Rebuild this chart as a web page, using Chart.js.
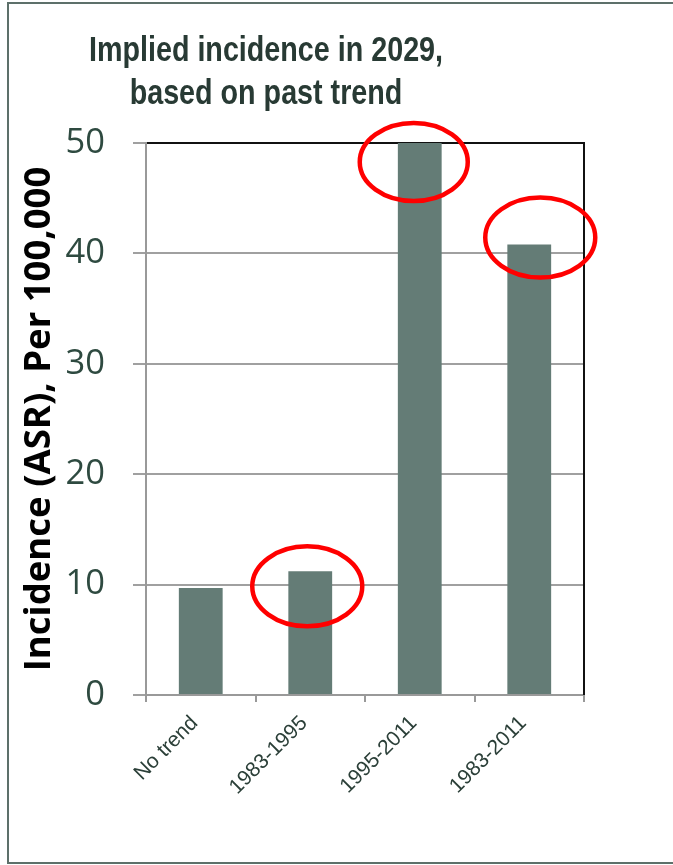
<!DOCTYPE html>
<html><head><meta charset="utf-8">
<script src="https://cdn.jsdelivr.net/npm/chart.js@4.4.1/dist/chart.umd.min.js"></script>
<style>html,body{margin:0;padding:0;background:#fff;}#wrap{width:673px;height:865px;position:relative;}canvas{display:block;}</style>
</head><body><div id="wrap"><canvas id="c" width="673" height="865"></canvas></div>
<script>
// ---- data ----
const categories = ['No trend', '1983-1995', '1995-2011', '1983-2011'];
const incidence2029 = [9.7, 11.2, 50.0, 40.8];
const yTickValues = [0, 10, 20, 30, 40, 50];
const titleLines = ['Implied incidence in 2029,', 'based on past trend'];
const yAxisTitle = 'Incidence (ASR), Per 100,000';
const circledCategories = ['1983-1995', '1995-2011', '1983-2011'];

// ---- styles ----
const ellipseStyle = {
  '1983-1995': {dx: -3, dy: 15, rx: 55, ry: 40},
  '1995-2011': {dx: -6, dy: 19, rx: 54, ry: 39},
  '1983-2011': {dx: 11, dy: -7, rx: 55, ry: 40}
};

const decorPlugin = {
  id: 'decor',
  beforeDraw(chart) {
    const ctx = chart.ctx;
    ctx.save();
    ctx.fillStyle = '#fff';
    ctx.fillRect(0, 0, chart.width, chart.height);
    ctx.strokeStyle = '#5d706a';
    ctx.lineWidth = 2;
    ctx.strokeRect(8, 3, chart.width + 20, chart.height - 5);
    ctx.fillStyle = '#283a34';
    ctx.font = 'bold 35px "Liberation Sans", Arial, sans-serif';
    ctx.textAlign = 'center';
    ctx.textBaseline = 'alphabetic';
    const sx = 0.82;
    ctx.scale(sx, 1);
    ctx.fillText(titleLines[0], 266 / sx, 61);
    ctx.fillText(titleLines[1], 266 / sx, 104);
    ctx.restore();
  },
  afterDraw(chart) {
    const ctx = chart.ctx;
    const a = chart.chartArea;
    ctx.save();
    ctx.strokeStyle = '#111';
    ctx.lineWidth = 2;
    ctx.beginPath();
    ctx.moveTo(a.right, a.top - 1);
    ctx.lineTo(a.right, a.bottom);
    ctx.stroke();
    // highlight ellipses
    const meta = chart.getDatasetMeta(0);
    ctx.strokeStyle = '#ff0000';
    ctx.lineWidth = 4.5;
    circledCategories.forEach(cat => {
      const i = categories.indexOf(cat);
      const bar = meta.data[i];
      const s = ellipseStyle[cat];
      ctx.beginPath();
      ctx.ellipse(bar.x + s.dx, bar.y + s.dy, s.rx, s.ry, 0, 0, Math.PI * 2);
      ctx.stroke();
    });
    ctx.restore();
  }
};

new Chart(document.getElementById('c'), {
  type: 'bar',
  data: {
    labels: categories,
    datasets: [{
      data: incidence2029,
      backgroundColor: '#647c76',
      borderWidth: 0,
      barPercentage: 0.4,
      categoryPercentage: 1.0
    }]
  },
  options: {
    responsive: false,
    devicePixelRatio: 1,
    animation: false,
    layout: {padding: {top: 143, left: 8, right: 89, bottom: 69}},
    plugins: {legend: {display: false}, tooltip: {enabled: false}, title: {display: false}},
    scales: {
      x: {
        afterFit(scale) { scale.paddingLeft = 0; scale.paddingRight = 0; scale.height = 101; },
        grid: {drawOnChartArea: false, drawTicks: true, tickLength: 7, color: '#999', lineWidth: 2, offset: true},
        border: {color: '#999', width: 2},
        ticks: {
          minRotation: 45, maxRotation: 45, padding: 9, labelOffset: -6,
          color: '#2b3f38',
          font: {family: '"Liberation Sans", Arial, sans-serif', size: 21}
        }
      },
      y: {
        min: 0, max: 50,
        afterFit(scale) { scale.width = 138; scale.paddingTop = 0; scale.paddingBottom = 0; },
        afterBuildTicks(scale) { scale.ticks = yTickValues.map(v => ({value: v})); },
        grid: {
          color: c => (c.tick && c.tick.value === 50) ? '#111' : '#a0a0a0',
          tickColor: '#a0a0a0',
          lineWidth: 2, tickLength: 13, drawTicks: true
        },
        border: {color: '#999', width: 2},
        ticks: {
          padding: 28,
          color: '#2e4a40',
          font: {family: '"Open Sans", sans-serif', size: 34.5}
        },
        title: {
          display: true, text: yAxisTitle, color: '#000',
          font: {family: '"Open Sans", sans-serif', size: 36.5, weight: 'bold'},
          padding: {top: 10, bottom: 6}
        }
      }
    }
  },
  plugins: [decorPlugin]
});
</script></body></html>
